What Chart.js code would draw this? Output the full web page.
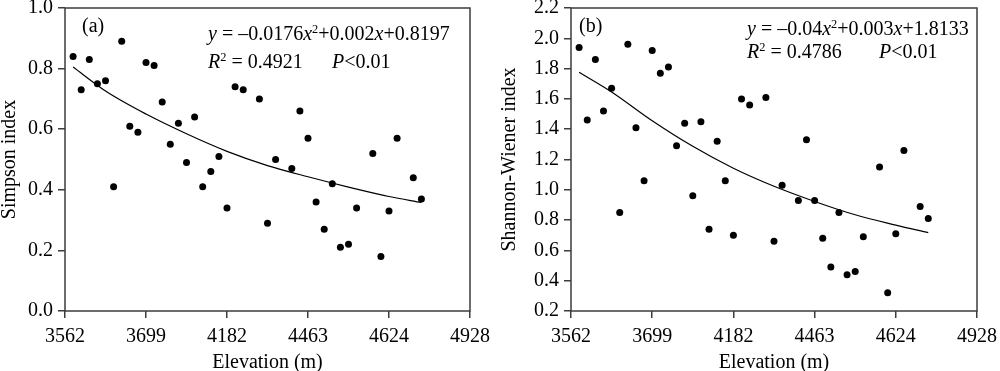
<!DOCTYPE html>
<html>
<head>
<meta charset="utf-8">
<script src="https://cdn.jsdelivr.net/npm/chart.js@4/dist/chart.umd.min.js"></script>
<style>
  body { margin: 0; background: #fff; }
  #wrap { position: relative; width: 1000px; height: 371px; }
  .panel { position: absolute; top: 0; width: 500px; height: 371px; }
</style>
</head>
<body>
<div id="wrap">
  <div class="panel" style="left:0"><canvas id="simpson"></canvas></div>
  <div class="panel" style="left:500px"><canvas id="shannon"></canvas></div>
</div>
<script>
// x axis: tick labels are evenly spaced, so sites sit on an index scale 0..5
const elevationLabels = ['3562', '3699', '4182', '4463', '4624', '4928']

const sitePos = [0.1, 0.2, 0.3, 0.4, 0.5, 0.6, 0.7, 0.8, 0.9, 1.0,
  1.1, 1.2, 1.3, 1.4, 1.5, 1.6, 1.7, 1.8, 1.9, 2.0,
  2.1, 2.2, 2.4, 2.5, 2.6, 2.8, 2.9, 3.0, 3.1, 3.2,
  3.3, 3.4, 3.5, 3.6, 3.8, 3.9, 4.0, 4.1, 4.3, 4.4]

const simpson = [0.84, 0.73, 0.83, 0.75, 0.76, 0.41, 0.89, 0.61, 0.59, 0.82,
  0.81, 0.69, 0.55, 0.62, 0.49, 0.64, 0.41, 0.46, 0.51, 0.34,
  0.74, 0.73, 0.70, 0.29, 0.50, 0.47, 0.66, 0.57, 0.36, 0.27,
  0.42, 0.21, 0.22, 0.34, 0.52, 0.18, 0.33, 0.57, 0.44, 0.37]

const shannon = [1.94, 1.46, 1.86, 1.52, 1.67, 0.85, 1.96, 1.41, 1.06, 1.92,
  1.77, 1.81, 1.29, 1.44, 0.96, 1.45, 0.74, 1.32, 1.06, 0.70,
  1.60, 1.56, 1.61, 0.66, 1.03, 0.93, 1.33, 0.93, 0.68, 0.49,
  0.85, 0.44, 0.46, 0.69, 1.15, 0.32, 0.71, 1.26, 0.89, 0.81]

// fitted curves
const fitPos = [0.1, 0.5, 1.0, 1.5, 2.0, 2.5, 3.0, 3.5, 4.0, 4.4]
const simpsonFit = [0.805, 0.726, 0.650, 0.585, 0.527, 0.480, 0.443, 0.409, 0.378, 0.358]
const shannonFit = [1.776, 1.646, 1.456, 1.287, 1.142, 1.023, 0.923, 0.835, 0.767, 0.717]

const FONT = '"Liberation Serif", "Times New Roman", serif'
const AXIS = '#3c3c3c'

const frame = {
  id: 'frame',
  beforeDatasetsDraw(chart) {
    const { ctx, chartArea: a } = chart
    ctx.save()
    ctx.strokeStyle = AXIS
    ctx.lineWidth = 1.5
    ctx.strokeRect(a.left, a.top, a.right - a.left, a.bottom - a.top)
    ctx.restore()
  }
}

// draws runs of text: [text, italic, superscript]
function drawRich(ctx, x, y, parts, size) {
  parts.forEach(p => {
    const sz = p[2] ? size * 0.62 : size
    ctx.font = (p[1] ? 'italic ' : '') + sz + 'px ' + FONT
    ctx.fillText(p[0], x, p[2] ? y - size * 0.36 : y)
    x += ctx.measureText(p[0]).width
  })
}

function notes(tag, tagX, eq, eqX, eqY, r2, r2Y, pX) {
  return {
    id: 'notes',
    afterDraw(chart) {
      const ctx = chart.ctx
      ctx.save()
      ctx.fillStyle = '#000'
      ctx.textBaseline = 'alphabetic'
      drawRich(ctx, tagX, 32, [[tag, false, false]], 20)
      drawRich(ctx, eqX, eqY, eq, 20)
      drawRich(ctx, eqX, r2Y, r2, 20)
      drawRich(ctx, pX, r2Y, [['P', true, false], ['<0.01', false, false]], 20)
      ctx.restore()
    }
  }
}

function makeChart(id, values, fit, yMin, yMax, yTitle, yWidth, rightPad, plugin) {
  const pts = sitePos.map((x, i) => ({ x: x, y: values[i] }))
  const curve = fitPos.map((x, i) => ({ x: x, y: fit[i] }))
  return new Chart(document.getElementById(id), {
    type: 'scatter',
    data: {
      datasets: [{
        data: pts,
        pointRadius: 3.5,
        pointBackgroundColor: '#000',
        pointBorderWidth: 0,
      }, {
        type: 'line',
        data: curve,
        borderColor: '#000',
        borderWidth: 1.2,
        pointRadius: 0,
        cubicInterpolationMode: 'monotone',
        fill: false,
      }]
    },
    options: {
      responsive: true,
      maintainAspectRatio: false,
      animation: false,
      layout: { padding: { top: 8, right: rightPad, left: 0, bottom: 0 } },
      plugins: { legend: { display: false }, tooltip: { enabled: false } },
      scales: {
        x: {
          type: 'linear',
          min: 0,
          max: 5,
          border: { display: false },
          grid: { display: true, drawOnChartArea: false, drawTicks: true, tickLength: 7, color: AXIS, lineWidth: 1.5 },
          ticks: {
            stepSize: 1,
            padding: 7,
            color: '#000',
            font: { family: FONT, size: 20 },
            maxRotation: 0,
            callback: v => elevationLabels[Math.round(v)]
          },
          title: { display: true, text: 'Elevation (m)', color: '#000', font: { family: FONT, size: 20, lineHeight: 1 }, padding: { top: 0, bottom: -2 } },
          afterFit: s => { s.height = 60; s.paddingLeft = 0; s.paddingRight = 0 }
        },
        y: {
          min: yMin,
          max: yMax,
          border: { display: false },
          grid: { display: true, drawOnChartArea: false, drawTicks: true, tickLength: 7, color: AXIS, lineWidth: 1.5 },
          ticks: {
            stepSize: 0.2,
            padding: 5,
            color: '#000',
            font: { family: FONT, size: 20 },
            callback: v => v.toFixed(1)
          },
          title: { display: true, text: yTitle, color: '#000', font: { family: FONT, size: 20, lineHeight: 1 }, padding: { top: 0, bottom: 0 } },
          afterFit: s => { s.width = yWidth; s.paddingTop = 0; s.paddingBottom = 0 }
        }
      }
    },
    plugins: [frame, plugin]
  })
}

makeChart('simpson', simpson, simpsonFit, 0, 1, 'Simpson index', 65, 30,
  notes('(a)', 82,
    [['y', true, false], [' = –0.0176', false, false], ['x', true, false], ['2', false, true], ['+0.002', false, false], ['x', true, false], ['+0.8197', false, false]],
    208, 40,
    [['R', true, false], ['2', false, true], [' = 0.4921', false, false]], 68, 332))

makeChart('shannon', shannon, shannonFit, 0.2, 2.2, 'Shannon-Wiener index', 71, 23,
  notes('(b)', 79,
    [['y', true, false], [' = –0.04', false, false], ['x', true, false], ['2', false, true], ['+0.003', false, false], ['x', true, false], ['+1.8133', false, false]],
    247, 35,
    [['R', true, false], ['2', false, true], [' = 0.4786', false, false]], 58, 379))
</script>
</body>
</html>
